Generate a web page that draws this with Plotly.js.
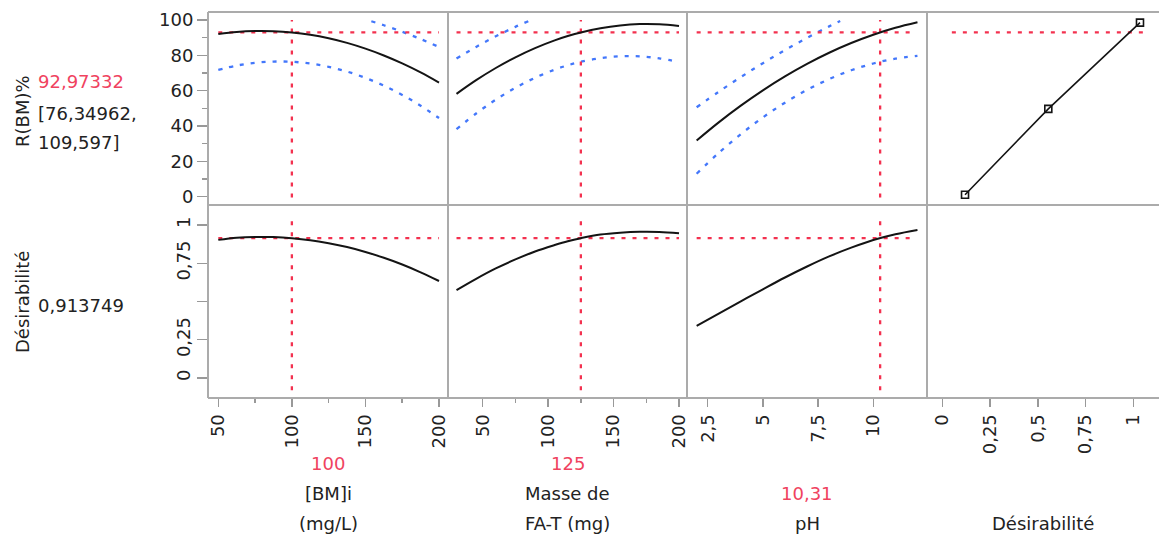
<!DOCTYPE html>
<html>
<head>
<meta charset="utf-8">
<script src="https://cdn.plot.ly/plotly-3.0.1.min.js"></script>
<style>html,body{margin:0;padding:0;background:#fff;}#chart{width:1159px;height:535px;}</style>
</head>
<body>
<div id="chart"></div>
<script>
// ---- data ----
const currentY = 92.97332;          // predicted R(BM)%
const ciLow = 76.34962, ciHigh = 109.597;
const currentD = 0.913749;          // desirability
const factorNames = [["[BM]i", "(mg/L)"], ["Masse de", "FA-T (mg)"], ["pH"], ["Désirabilité"]];
const currentX = [100, 125, 10.31];
const currentXText = ["100", "125", "10,31"];

// [BM]i panel
const bmX    = [50, 62.5, 75, 87.5, 100, 112.5, 125, 137.5, 150, 162.5, 175, 187.5, 200];
const bmMean = [92.10, 93.26, 93.79, 93.70, 92.97, 91.62, 89.64, 87.04, 83.80, 79.94, 75.45, 70.34, 64.60];
const bmLow  = [71.8, 74.22, 75.78, 76.49, 76.35, 75.35, 73.51, 70.81, 67.25, 62.84, 57.58, 51.47, 44.5];
const bmUpX  = [154, 162.5, 175, 187.5, 200];
const bmUp   = [99.3, 97.04, 93.32, 89.21, 84.7];
const bmDes  = [0.903, 0.917, 0.922, 0.921, 0.914, 0.901, 0.881, 0.856, 0.824, 0.786, 0.742, 0.691, 0.634];

// Masse de FA-T panel
const faX    = [30, 45, 60, 75, 90, 105, 115, 125, 140, 155, 170, 185, 200];
const faMean = [58.2, 65.93, 72.83, 78.88, 84.08, 88.45, 90.90, 92.97, 95.38, 96.94, 97.67, 97.56, 96.6];
const faLow  = [38.2, 47.09, 54.9, 61.63, 67.29, 71.89, 74.36, 76.35, 78.44, 79.47, 79.42, 78.29, 76.1];
const faUpX  = [30, 45, 60, 75, 85];
const faUp   = [78.2, 84.77, 90.76, 96.13, 99.35];
const faDes  = [0.574, 0.648, 0.716, 0.775, 0.827, 0.869, 0.894, 0.914, 0.938, 0.950, 0.956, 0.955, 0.946];

// pH panel
const phX    = [2, 3, 4, 5, 6, 7, 8, 9, 10, 11, 12];
const phMean = [31.8, 42.07, 51.53, 60.21, 68.09, 75.17, 81.47, 86.97, 91.67, 95.58, 98.7];
const phLow  = [13.0, 24.75, 35.37, 44.86, 53.22, 60.46, 66.56, 71.54, 75.39, 78.11, 79.7];
const phUpX  = [2, 3, 4, 5, 6, 7, 8, 8.5];
const phUp   = [50.6, 59.39, 67.69, 75.56, 82.96, 89.88, 96.38, 99.45];
const phDes  = [0.340, 0.421, 0.501, 0.580, 0.657, 0.729, 0.795, 0.852, 0.902, 0.940, 0.968];

// desirability function panel
const desX = [0.119, 0.555, 1.035];
const desY = [1.1, 49.7, 98.5];

// tick labels
const yTopTicks = [0, 20, 40, 60, 80, 100];
const yBotTicks = [0, 0.25, 0.5, 0.75, 1];
const yBotText  = ["0", "0,25", "", "0,75", "1"];
const x1Ticks = [50, 100, 150, 200];
const x2Ticks = [50, 100, 150, 200];
const x3Ticks = [2.5, 5, 7.5, 10];
const x3Text  = ["2,5", "5", "7,5", "10"];
const x4Ticks = [0, 0.25, 0.5, 0.75, 1];
const x4Text  = ["0", "0,25", "0,5", "0,75", "1"];

// ---- styling ----
const FONT = "DejaVu Sans, Verdana, sans-serif";
const TXT = "#222";
const RED = "#f3314f";
const REDTXT = "#f0435f";
const BLUE = "#4377fb";
const FRAME = "#ababab";
const fmt = v => String(v).replace(".", ",");

const traces = [];
function meanLine(x, y, xa, ya) {
  traces.push({x, y, xaxis: xa, yaxis: ya, mode: "lines", line: {color: "#141414", width: 2, shape: "spline"}, hoverinfo: "skip"});
}
function ciLine(x, y, xa) {
  traces.push({x, y, xaxis: xa, yaxis: "y", mode: "lines", line: {color: BLUE, width: 2.3, dash: "4px,7px", shape: "spline"}, hoverinfo: "skip"});
}
function redLine(x, y, xa, ya) {
  traces.push({x, y, xaxis: xa, yaxis: ya, mode: "lines", line: {color: RED, width: 2.3, dash: "4px,7px"}, hoverinfo: "skip"});
}

// column 1
ciLine(bmX, bmLow, "x"); ciLine(bmUpX, bmUp, "x");
redLine([bmX[0], bmX[bmX.length-1]], [currentY, currentY], "x", "y");
redLine([currentX[0], currentX[0]], [-0.5, 100], "x", "y");
meanLine(bmX, bmMean, "x", "y");
redLine([bmX[0], bmX[bmX.length-1]], [currentD, currentD], "x", "y2");
redLine([currentX[0], currentX[0]], [-0.08, 1.065], "x", "y2");
meanLine(bmX, bmDes, "x", "y2");
// column 2
ciLine(faX, faLow, "x2"); ciLine(faUpX, faUp, "x2");
redLine([faX[0], faX[faX.length-1]], [currentY, currentY], "x2", "y");
redLine([currentX[1], currentX[1]], [-0.5, 100], "x2", "y");
meanLine(faX, faMean, "x2", "y");
redLine([faX[0], faX[faX.length-1]], [currentD, currentD], "x2", "y2");
redLine([currentX[1], currentX[1]], [-0.08, 1.065], "x2", "y2");
meanLine(faX, faDes, "x2", "y2");
// column 3
ciLine(phX, phLow, "x3"); ciLine(phUpX, phUp, "x3");
redLine([phX[0], phX[phX.length-1] - 0.2], [currentY, currentY], "x3", "y");
redLine([currentX[2], currentX[2]], [-0.5, 100], "x3", "y");
meanLine(phX, phMean, "x3", "y");
redLine([phX[0], phX[phX.length-1] - 0.2], [currentD, currentD], "x3", "y2");
redLine([currentX[2], currentX[2]], [-0.08, 1.065], "x3", "y2");
meanLine(phX, phDes, "x3", "y2");
// column 4 (desirability function)
redLine([0.05, 1.05], [currentY, currentY], "x4", "y");
traces.push({x: desX, y: desY, xaxis: "x4", yaxis: "y", mode: "lines+markers",
  line: {color: "#141414", width: 1.6},
  marker: {symbol: "square-open", size: 7, color: "#141414", line: {width: 1.6, color: "#141414"}}, hoverinfo: "skip"});

// ---- layout ----
const L = 208, T = 12, W = 951, H = 386;
const colPx = [208, 448, 687, 927, 1159];
const dom = colPx.map(p => (p - L) / W);
const py = p => (398 - p) / H;       // pixel y -> paper y
const px = p => (p - L) / W;         // pixel x -> paper x

const tickFont = {family: FONT, size: 18, color: TXT};
function xAxis(i, range, tickvals, ticktext, minorVals) {
  const ax = {
    domain: [dom[i], dom[i+1]], range, anchor: "y2", side: "bottom",
    tickmode: "array", tickvals, ticktext: ticktext || tickvals.map(String),
    tickangle: -90, ticks: "outside", ticklen: 8, tickwidth: 1.5, tickcolor: "#999",
    tickfont: tickFont, showgrid: false, zeroline: false, showline: false, fixedrange: true
  };
  if (minorVals) ax.minor = {tickmode: "array", tickvals: minorVals, ticks: "outside", ticklen: 4, tickwidth: 1.5, tickcolor: "#999", showgrid: false};
  return ax;
}

const shapes = [];
const lineStyle = {color: FRAME, width: 2};
[1, 0.5, 0].forEach(yy => shapes.push({type: "line", xref: "paper", yref: "paper", x0: 0, x1: 1, y0: yy, y1: yy, line: lineStyle, layer: "below"}));
[0, 1, 2, 3].forEach(i => shapes.push({type: "line", xref: "paper", yref: "paper", x0: dom[i], x1: dom[i], y0: 0, y1: 1, line: lineStyle, layer: "below"}));

const annotations = [];
function ann(text, xp, yp, opts) {
  annotations.push(Object.assign({text, xref: "paper", yref: "paper", x: xp, y: yp, showarrow: false,
    xanchor: "center", yanchor: "middle", font: {family: FONT, size: 18, color: TXT}}, opts || {}));
}
// left side labels
ann("R(BM)%", px(22), py(111), {textangle: -90});
ann(fmt(currentY), px(36), py(82), {xanchor: "left", font: {family: FONT, size: 18, color: REDTXT}});
ann("[" + fmt(ciLow) + ",", px(36), py(113), {xanchor: "left"});
ann(fmt(ciHigh) + "]", px(36), py(142), {xanchor: "left"});
ann("Désirabilité", px(22), py(302), {textangle: -90});
ann(fmt(currentD), px(36), py(305), {xanchor: "left"});
// bottom labels (bottom aligned)
const centers = [0, 1, 2, 3].map(i => (dom[i] + dom[i+1]) / 2);
factorNames.forEach((lines, i) => {
  const n = lines.length;
  lines.forEach((t, k) => ann(t, centers[i], py(523 - 30 * (n - 1 - k))));
  if (i < 3) ann(currentXText[i], centers[i], py(523 - 30 * n), {font: {family: FONT, size: 18, color: REDTXT}});
});

const layout = {
  width: 1159, height: 535,
  margin: {l: L, r: 0, t: T, b: 535 - 398, pad: 0},
  paper_bgcolor: "#fff", plot_bgcolor: "#fff",
  showlegend: false,
  font: {family: FONT, size: 18, color: TXT},
  xaxis:  xAxis(0, [43.0, 206.1], x1Ticks, null, [75, 125, 175]),
  xaxis2: xAxis(1, [23.5, 206.1], x2Ticks, null, [75, 125, 175]),
  xaxis3: xAxis(2, [1.563, 12.432], x3Ticks, x3Text),
  xaxis4: xAxis(3, [-0.0801, 1.1345], x4Ticks, x4Text),
  yaxis: {
    domain: [0.5, 1], range: [-4.7, 104.53], anchor: "x",
    tickmode: "array", tickvals: yTopTicks, ticktext: yTopTicks.map(String),
    ticks: "outside", ticklen: 10, tickwidth: 1.5, tickcolor: "#999", tickfont: tickFont,
    minor: {tickmode: "array", tickvals: [10, 30, 50, 70, 90], ticks: "outside", ticklen: 5, tickwidth: 1.5, tickcolor: "#999", showgrid: false},
    showgrid: false, zeroline: false, showline: false, fixedrange: true
  },
  yaxis2: {
    domain: [0, 0.5], range: [-0.131, 1.131], anchor: "x",
    tickmode: "array", tickvals: yBotTicks, ticktext: yBotText, tickangle: -90,
    ticks: "outside", ticklen: 10, tickwidth: 1.5, tickcolor: "#999", tickfont: tickFont,
    showgrid: false, zeroline: false, showline: false, fixedrange: true
  },
  shapes, annotations
};

Plotly.newPlot("chart", traces, layout, {displayModeBar: false, staticPlot: true});
</script>
</body>
</html>
